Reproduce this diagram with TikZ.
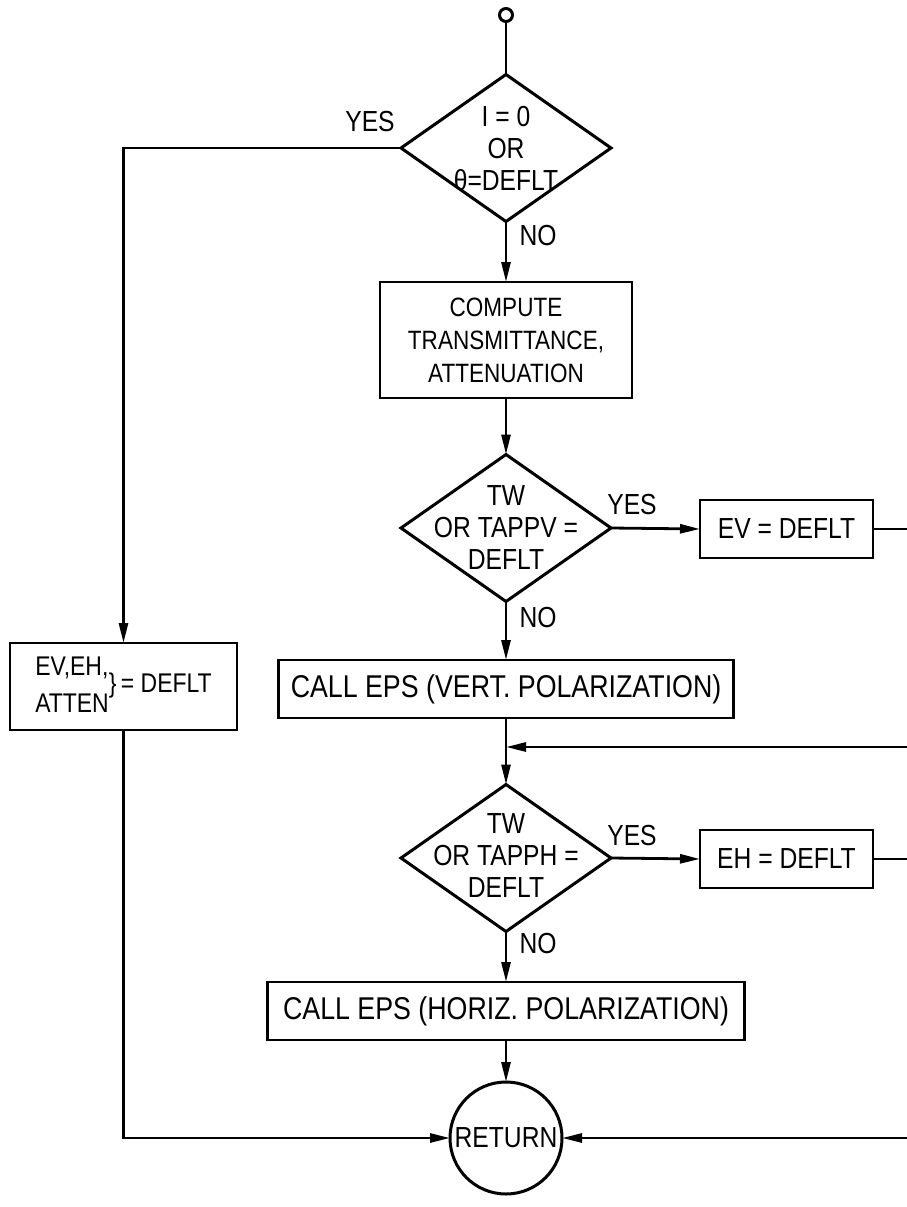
\documentclass[tikz,border=0pt]{standalone}
\usepackage{fontspec}
\setmainfont{Liberation Sans}[FakeStretch=0.85]
\usetikzlibrary{shapes.geometric,arrows.meta}
\begin{document}
\begin{tikzpicture}[x=1pt,y=-1pt,
  every node/.style={inner sep=0pt, outer sep=0pt},
  box/.style={draw, line width=2.8pt, rectangle},
  dia/.style={draw, line width=3pt, diamond, minimum width=210pt, minimum height=147pt},
  dtext/.style={align=center, font=\fontsize{29}{32}\selectfont},
  bigtext/.style={font=\fontsize{31.5}{34}\selectfont},
  midtext/.style={font=\fontsize{29}{32}\selectfont},
  lbl/.style={font=\fontsize{29}{30}\selectfont},
  conn/.style={line width=2.8pt},
  arr/.style={conn, -{Triangle[length=20pt,width=9pt]}},
]
\path[use as bounding box, fill=white] (0,0) rectangle (907,1207);

% start connector
\node[draw, circle, line width=3pt, minimum size=13pt] (st) at (506,15) {};

% first decision
\node[dia] (d1) at (506,148) {};
\node[dtext] (d1t) at (506,149) {I = 0\\OR\\θ=DEFLT};
\node[lbl] (yes1) at (370,122) {YES};
\node[lbl] (no1) at (538,236) {NO};

% compute box
\node[box, minimum width=252pt, minimum height=116pt] (b2) at (506,340)
  {\begin{minipage}{240pt}\centering\fontsize{26.5}{33}\selectfont COMPUTE\\TRANSMITTANCE,\\ATTENUATION\end{minipage}};

% second decision
\node[dia] (d2) at (506,528) {};
\node[dtext] (d2t) at (506,528) {TW\\OR TAPPV =\\DEFLT};
\node[lbl] (yes2) at (632,505) {YES};
\node[lbl] (no2) at (538,618) {NO};
\node[box, minimum width=173pt, minimum height=58pt, midtext] (ev) at (786.5,529) {EV = DEFLT};
\coordinate (evR) at (907,529);

% call EPS vertical
\node[box, minimum width=455pt, minimum height=58pt, bigtext] (b3) at (506,689) {CALL EPS (VERT. POLARIZATION)};

% merge point
\coordinate (mergeR) at (907,747);
\coordinate (mj) at (506,747);

% third decision
\node[dia] (d3) at (506,858) {};
\node[dtext] (d3t) at (506,856) {TW\\OR TAPPH =\\DEFLT};
\node[lbl] (yes3) at (632,836) {YES};
\node[lbl] (no3) at (538,944) {NO};
\node[box, minimum width=173pt, minimum height=58pt, midtext] (eh) at (786.5,859) {EH = DEFLT};
\coordinate (ehR) at (907,859);

% call EPS horizontal
\node[box, minimum width=477pt, minimum height=58pt, bigtext] (b4) at (506,1011) {CALL EPS (HORIZ. POLARIZATION)};

% return
\node[draw, circle, line width=3pt, minimum size=112pt, midtext] (ret) at (506,1138) {RETURN};
\coordinate (retR) at (907,1138);

% left default box
\node[box, minimum width=227pt, minimum height=87pt] (lb) at (123.5,686.5)
  {\fontsize{27}{37}\selectfont\begin{tabular}{@{}l@{}}EV,EH,\\ATTEN\end{tabular}\}\,= DEFLT};

% connectors
\draw[conn] (st) -- (d1.north);
\draw[arr] (d1.south) -- (b2.north);
\draw[arr] (b2.south) -- (d2.north);
\draw[arr] (d2.east) -- (ev.west);
\draw[conn] (ev.east) -- (evR);
\draw[arr] (d2.south) -- (b3.north);
\draw[arr] (b3.south) -- (d3.north);
\draw[arr] (mergeR) -- (mj);
\draw[arr] (d3.east) -- (eh.west);
\draw[conn] (eh.east) -- (ehR);
\draw[arr] (d3.south) -- (b4.north);
\draw[arr] (b4.south) -- (ret.north);
\draw[arr] (d1.west) -| (lb.north);
\draw[arr] (lb.south) |- (ret.west);
\draw[arr] (retR) -- (ret.east);
\end{tikzpicture}
\end{document}
